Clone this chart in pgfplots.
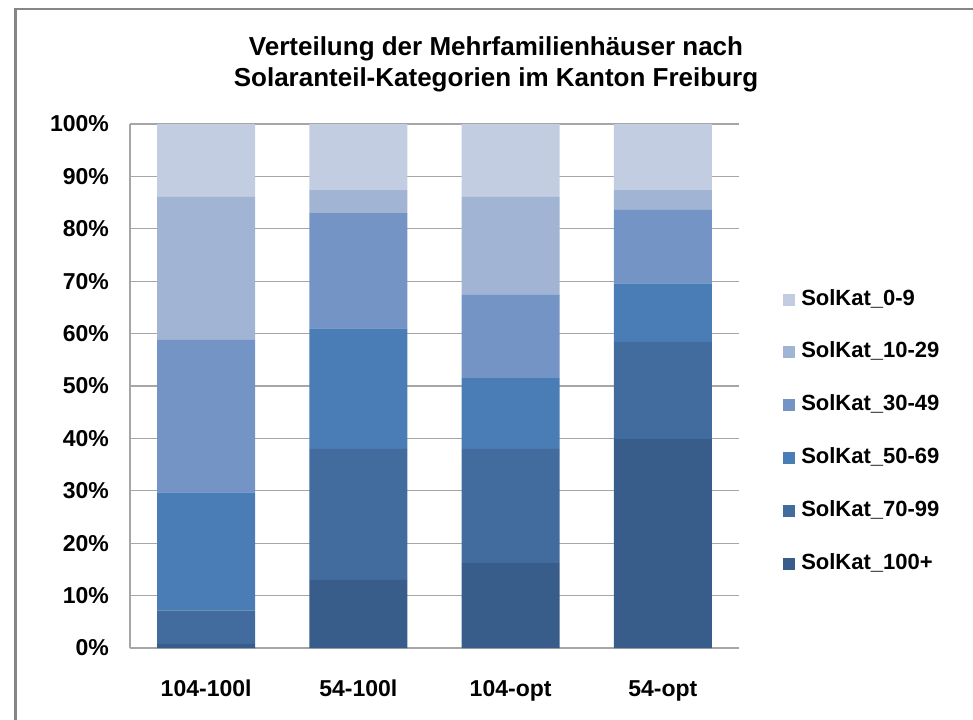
\documentclass[border=0pt]{standalone}
\usepackage{fontspec}
\setmainfont{Liberation Sans}
\usepackage{pgfplots}
\pgfplotsset{compat=1.18}

\definecolor{cA}{RGB}{195,205,225}
\definecolor{cB}{RGB}{161,180,212}
\definecolor{cC}{RGB}{115,148,197}
\definecolor{cD}{RGB}{74,124,182}
\definecolor{cE}{RGB}{66,108,158}
\definecolor{cF}{RGB}{56,93,138}
\definecolor{gridgray}{RGB}{166,166,166}
\definecolor{framegray}{RGB}{134,134,134}

\begin{document}
\begin{tikzpicture}
\useasboundingbox (0,0) rectangle (486.5pt,359.5pt);
\draw[framegray, line width=1.25pt] (7.7pt,-2pt) -- (7.7pt,354.9pt) -- (495pt,354.9pt);
\node[align=center, font=\fontsize{13}{15.5}\selectfont\bfseries] at (248pt,327.5pt)
  {Verteilung der Mehrfamilienhäuser nach\\Solaranteil-Kategorien im Kanton Freiburg};
\begin{axis}[
    at={(65pt,35.5pt)}, anchor=south west,
    scale only axis,
    width=304.5pt, height=262pt,
    ybar stacked,
    bar width=49pt,
    xmin=-0.5, xmax=3.5,
    ymin=0, ymax=100,
    xtick=data,
    xticklabels={104-100l, 54-100l, 104-opt, 54-opt},
    ytick={0,10,...,100},
    yticklabels={0\%,10\%,20\%,30\%,40\%,50\%,60\%,70\%,80\%,90\%,100\%},
    major tick length=0pt,
    ticklabel style={font=\fontsize{11.5}{13}\selectfont\bfseries},
    yticklabel style={xshift=-7pt},
    xticklabel style={anchor=base, yshift=-24pt},
    axis x line=bottom, axis y line=left,
    axis line style={-, color=gridgray, line width=0.65pt},
    ymajorgrids,
    grid style={color=gridgray, line width=0.65pt},
    clip=false,
    reverse legend,
    legend style={at={(1.072,0.413)}, anchor=west, draw=none, fill=none,
      inner sep=0pt, row sep=11.9pt, column sep=1pt,
      font=\fontsize{11}{13}\selectfont\bfseries,
      nodes={text height=8pt, text depth=2.5pt, inner sep=2pt}},
    legend cell align=left,
    legend image code/.code={\fill[#1] (0pt,-3pt) rectangle (6pt,3pt);},
  ]
  % bottom segment first: SolKat_100+
  \addplot[fill=cF, draw=none] coordinates {(0,0.8) (1,13.0) (2,16.2) (3,39.9)};
  \addplot[fill=cE, draw=none] coordinates {(0,6.4) (1,25.0) (2,21.8) (3,18.5)};
  \addplot[fill=cD, draw=none] coordinates {(0,22.5) (1,23.0) (2,13.5) (3,11.2)};
  \addplot[fill=cC, draw=none] coordinates {(0,29.1) (1,22.0) (2,15.9) (3,14.0)};
  \addplot[fill=cB, draw=none] coordinates {(0,27.3) (1,4.4) (2,18.7) (3,3.8)};
  \addplot[fill=cA, draw=none] coordinates {(0,13.9) (1,12.6) (2,13.9) (3,12.6)};
  \legend{SolKat\_100+, SolKat\_70-99, SolKat\_50-69, SolKat\_30-49, SolKat\_10-29, SolKat\_0-9}
\end{axis}
\end{tikzpicture}
\end{document}
